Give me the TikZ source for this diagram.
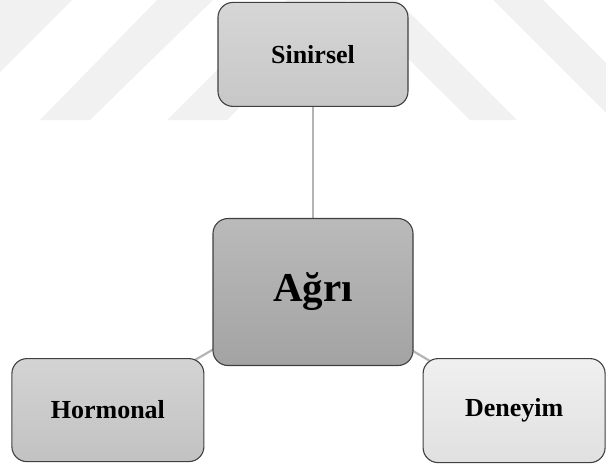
\documentclass[tikz,border=0pt]{standalone}
\usepackage{fontspec}
\setmainfont{Liberation Serif}
\usetikzlibrary{positioning, backgrounds}
\definecolor{wmgray}{HTML}{F1F1F1}
\definecolor{linkgray}{HTML}{B4B4B4}
\definecolor{edgegray}{HTML}{404040}
\tikzstyle{box} = [
  rectangle,
  rounded corners=15pt,
  minimum width=190pt,
  minimum height=104pt,
  text centered,
  inner sep=0,
  draw=edgegray,
  line width=1.1pt,
  font=\bfseries\fontsize{26}{30}\selectfont
]
\tikzstyle{hub} = [
  box,
  minimum width=200pt,
  minimum height=147pt,
  top color=black!27,
  bottom color=black!36,
  font=\bfseries\fontsize{41}{48}\selectfont
]
\tikzstyle{link} = [
  line width=2.2pt,
  draw=linkgray
]
\tikzstyle{wmark} = [
  fill=wmgray,
  draw=none
]

\begin{document}
\begin{tikzpicture}[x=1pt, y=-1pt, node distance=111pt]

    \useasboundingbox (0,0) rectangle (606,464);

    \node (agri) [hub] at (313,292) {Ağrı};
    \node (sinirsel) [box, above=of agri, top color=black!16, bottom color=black!22] {Sinirsel};
    \node (hormonal) [box, below left=-8pt and 8pt of agri, minimum width=192pt, minimum height=103pt, top color=black!17, bottom color=black!24] {Hormonal};
    \node (deneyim) [box, below right=-8pt and 9pt of agri, minimum width=182pt, top color=black!6, bottom color=black!12] {Deneyim};

    \begin{pgfonlayer}{background}
      % faint watermark
      \fill [wmark] (0,0) -- (72,0) -- (0,72) -- cycle;
      \fill [wmark] (157,0) -- (213,0) -- (90,120) -- (40,120) -- cycle;
      \fill [wmark] (167,120) -- (287,0) -- (397,0) -- (517,120) -- (470,120) -- (350,1) -- (347,1) -- (227,120) -- cycle;
      \fill [wmark] (493,0) -- (543,0) -- (606,63) -- (606,113) -- cycle;
      % connectors
      \draw [link] (agri.center) -- (sinirsel.center);
      \draw [link] (agri.center) -- (hormonal.center);
      \draw [link] (agri.center) -- (deneyim.center);
    \end{pgfonlayer}

  \end{tikzpicture}
\end{document}
